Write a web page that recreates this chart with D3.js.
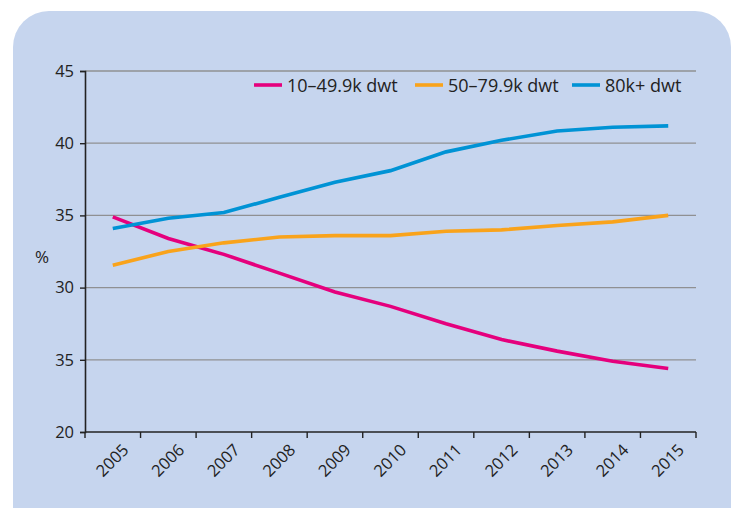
<!DOCTYPE html>
<html lang="en">
<head>
<meta charset="utf-8">
<style>
  body { margin: 0; background: #ffffff; }
  svg text { font-family: "Open Sans", "Noto Sans", sans-serif; fill: #222; }
</style>
<title>Share by size class</title>
</head>
<body>
<script src="https://cdn.jsdelivr.net/npm/d3@7/dist/d3.min.js"></script>
<script>
  // data
  var years = ["2005","2006","2007","2008","2009","2010","2011","2012","2013","2014","2015"];
  var small = [34.9, 33.4, 32.3, 31.0, 29.7, 28.7, 27.5, 26.4, 25.6, 24.9, 24.4];
  var medium = [31.55, 32.5, 33.1, 33.5, 33.6, 33.6, 33.9, 34.0, 34.3, 34.55, 35.0];
  var large = [34.1, 34.8, 35.2, 36.25, 37.3, 38.1, 39.4, 40.2, 40.85, 41.1, 41.2];
  var seriesNames = ["10–49.9k dwt", "50–79.9k dwt", "80k+ dwt"];
  var seriesColors = ["#e5007d", "#f9a31b", "#0093d5"];
  var yTicks = [20, 25, 30, 35, 40, 45];
  var yTickLabels = ["20", "35", "30", "35", "40", "45"];

  var w = 733, h = 508;
  var margin = {top: 71, right: 37, bottom: 76, left: 85};

  var svg = d3.select("body").append("svg").attr("width", w).attr("height", h);

  // panel with rounded top corners
  svg.append("rect")
    .attr("x", 13).attr("y", 11)
    .attr("width", 718).attr("height", 560)
    .attr("rx", 36).attr("ry", 36)
    .attr("fill", "#c6d5ee");

  var x = d3.scaleBand().domain(years).range([margin.left, w - margin.right]);
  var y = d3.scaleLinear().domain([20, 45]).range([h - margin.bottom, margin.top]);

  // grid lines
  svg.append("g").selectAll("line")
    .data(yTicks.slice(1))
    .enter().append("line")
    .attr("x1", margin.left).attr("x2", w - margin.right)
    .attr("y1", function(d) { return y(d); })
    .attr("y2", function(d) { return y(d); })
    .attr("stroke", "#8f9092").attr("stroke-width", 1.3);

  // y axis
  var yAxis = svg.append("g")
    .attr("transform", "translate(" + margin.left + ",0)")
    .call(d3.axisLeft(y).tickValues(yTicks).tickSize(5).tickPadding(6)
      .tickFormat(function(d, i) { return yTickLabels[i]; }));
  yAxis.select(".domain").attr("stroke", "#222").attr("stroke-width", 1.6);
  yAxis.selectAll(".tick line").attr("stroke", "#222").attr("stroke-width", 1.4);
  yAxis.selectAll("text").attr("font-size", 16.5).attr("fill", "#222")
    .style("font-family", "'Open Sans', 'Noto Sans', sans-serif");

  // x axis: ticks on band edges
  var xAxis = svg.append("g")
    .attr("transform", "translate(0," + (h - margin.bottom) + ")");
  xAxis.append("line")
    .attr("x1", margin.left).attr("x2", w - margin.right)
    .attr("y1", 0).attr("y2", 0)
    .attr("stroke", "#222").attr("stroke-width", 1.6);
  var edges = years.map(function(d) { return x(d); }).concat([x(years[years.length - 1]) + x.bandwidth()]);
  xAxis.selectAll(".xt").data(edges).enter().append("line")
    .attr("x1", function(d) { return d; }).attr("x2", function(d) { return d; })
    .attr("y1", 0).attr("y2", 6)
    .attr("stroke", "#222").attr("stroke-width", 1.4);
  xAxis.selectAll(".xl").data(years).enter().append("text")
    .attr("transform", function(d) {
      return "translate(" + (x(d) + x.bandwidth() / 2 + 17) + ",19) rotate(-45)";
    })
    .attr("text-anchor", "end")
    .attr("font-size", 16.5)
    .text(function(d) { return d; });

  // "%" label
  svg.append("text").attr("x", 42).attr("y", 263)
    .attr("text-anchor", "middle").attr("font-size", 17).text("%");

  // lines
  var line = d3.line()
    .x(function(d, i) { return x(years[i]) + x.bandwidth() / 2; })
    .y(function(d) { return y(d); });

  [small, medium, large].forEach(function(s, k) {
    svg.append("path")
      .datum(s)
      .attr("d", line)
      .attr("fill", "none")
      .attr("stroke", seriesColors[k])
      .attr("stroke-width", 3.6);
  });

  // legend
  var legendX = [254, 415, 572];
  var legend = svg.append("g");
  seriesNames.forEach(function(name, k) {
    legend.append("line")
      .attr("x1", legendX[k]).attr("x2", legendX[k] + 28)
      .attr("y1", 85).attr("y2", 85)
      .attr("stroke", seriesColors[k]).attr("stroke-width", 3.6);
    legend.append("text")
      .attr("x", legendX[k] + 33).attr("y", 92)
      .attr("font-size", 18)
      .text(name);
  });
</script>
</body>
</html>
